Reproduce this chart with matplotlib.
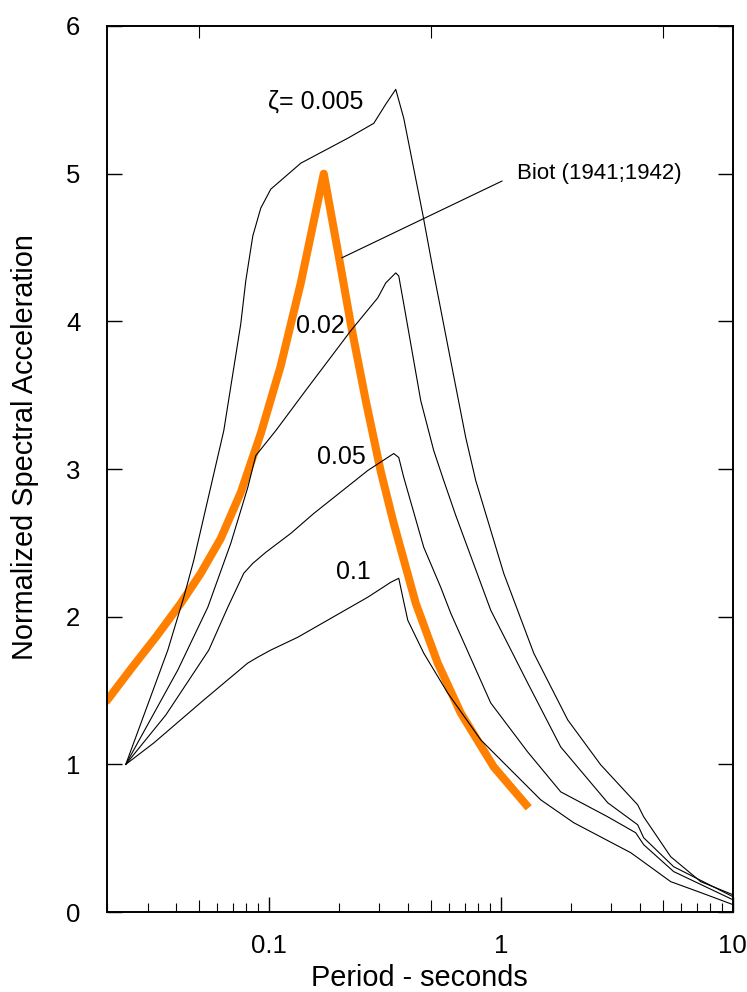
import matplotlib
matplotlib.use("Agg")
import matplotlib.pyplot as plt
from matplotlib.ticker import NullFormatter, FixedLocator

plt.rcParams['font.family'] = ['Liberation Sans', 'DejaVu Sans']

# response spectra: period (s) and normalized acceleration
t_0005 = [0.02418, 0.0367, 0.0430, 0.04749, 0.06397, 0.07572, 0.07957, 0.08531, 0.09236,
          0.1020, 0.1374, 0.2191, 0.2836, 0.3193, 0.3527, 0.3819, 0.4611, 0.5091,
          0.6087, 0.7066, 0.7803, 1.030, 1.388, 1.945, 2.698, 3.895, 4.134, 5.404,
          7.279, 10.0]
sa_0005 = [1.0, 1.774, 2.132, 2.382, 3.260, 3.983, 4.274, 4.578, 4.767,
           4.895, 5.071, 5.240, 5.341, 5.470, 5.571, 5.375, 4.726, 4.361,
           3.733, 3.213, 2.922, 2.294, 1.753, 1.301, 0.997, 0.726, 0.645, 0.375,
           0.206, 0.118]

t_002 = [0.02418, 0.04053, 0.05458, 0.06858, 0.08117, 0.0879, 0.1072, 0.1473, 0.2256,
         0.2950, 0.3193, 0.3527, 0.3634, 0.3819, 0.4520, 0.5142, 0.5679, 0.6398,
         0.9055, 1.307, 1.814, 2.893, 3.895, 4.134, 5.568, 10.0]
sa_002 = [1.0, 1.639, 2.064, 2.497, 2.875, 3.091, 3.260, 3.551, 3.936,
          4.159, 4.260, 4.328, 4.307, 4.118, 3.463, 3.125, 2.922, 2.686,
          2.044, 1.551, 1.118, 0.740, 0.591, 0.503, 0.307, 0.105]

t_005 = [0.02418, 0.03597, 0.05512, 0.06657, 0.0780, 0.08531, 0.09707, 0.1244, 0.1563,
         0.2672, 0.3457, 0.3634, 0.3819, 0.4657, 0.5513, 0.6087, 0.9055, 1.307,
         1.814, 2.893, 3.819, 4.134, 5.568, 10.0]
sa_005 = [1.0, 1.334, 1.774, 2.064, 2.294, 2.361, 2.436, 2.564, 2.699,
          2.990, 3.105, 3.078, 2.943, 2.470, 2.199, 2.024, 1.416, 1.084,
          0.814, 0.645, 0.537, 0.456, 0.274, 0.084]

t_01 = [0.02418, 0.03193, 0.05245, 0.08117, 0.08966, 0.1020, 0.1334, 0.2672, 0.3356,
        0.3634, 0.3781, 0.3974, 0.4657, 0.5909, 0.8201, 1.487, 2.064, 3.634, 3.895,
        5.404, 7.279, 10.0]
sa_01 = [1.0, 1.145, 1.436, 1.686, 1.726, 1.774, 1.861, 2.132, 2.233,
         2.260, 2.132, 1.976, 1.753, 1.483, 1.166, 0.760, 0.605, 0.402, 0.368,
         0.206, 0.132, 0.051]

# Biot (1941;1942) standard spectrum
t_biot = [0.01983, 0.02542, 0.03257, 0.04176, 0.05091, 0.0621, 0.07572, 0.09236,
          0.1126, 0.1374, 0.1726, 0.2002, 0.2256, 0.2619, 0.3040, 0.3457, 0.4302,
          0.5350, 0.6724, 0.9329, 1.320]
sa_biot = [1.422, 1.645, 1.861, 2.091, 2.294, 2.530, 2.841, 3.240,
           3.699, 4.260, 5.0, 4.443, 3.983, 3.463, 2.983, 2.632, 2.091,
           1.686, 1.348, 0.983, 0.706]

damping_labels = ['\u03b6= 0.005', '0.02', '0.05', '0.1']
label_pos = [(0.1594, 5.49), (0.1675, 3.97), (0.206, 3.08), (0.231, 2.30)]

fig = plt.figure(figsize=(7.47, 9.92), dpi=100)
ax = fig.add_axes([0.1428, 0.0806, 0.8380, 0.8932])

ax.plot(t_biot, sa_biot, color='#ff8000', lw=5.8, solid_joinstyle='round',
        solid_capstyle='butt', zorder=2)
for t, sa in [(t_0005, sa_0005), (t_002, sa_002), (t_005, sa_005), (t_01, sa_01)]:
    ax.plot(t, sa, color='black', lw=0.8, zorder=3)

for txt, (x, y) in zip(damping_labels, label_pos):
    ax.text(x, y, txt, fontsize=18, ha='center', va='center', zorder=4)

ax.annotate('Biot (1941;1942)', xy=(0.2064, 4.43), xytext=(1.18, 5.0),
            fontsize=16, ha='left', va='center',
            arrowprops=dict(arrowstyle='-', lw=0.8, color='black',
                            shrinkA=10, shrinkB=0, relpos=(0, 0.5)))

ax.set_xscale('log')
ax.set_xlim(0.02, 10)
ax.set_ylim(0, 6)
ax.set_xticks([0.1, 1, 10], labels=['0.1', '1', '10'])
ax.set_yticks(range(7))
ax.xaxis.set_minor_locator(FixedLocator([d * m for d in (0.01, 0.1, 1)
                                         for m in (2, 3, 4, 6, 7, 8, 9)]))
ax.xaxis.set_minor_formatter(NullFormatter())

ax.tick_params(which='major', direction='in', length=10.8, width=1,
               top=True, right=True, labelsize=18.5)
ax.tick_params(axis='x', which='major', pad=16)
ax.tick_params(axis='y', which='major', pad=19)
ax.tick_params(which='minor', direction='in', length=6.5, width=0.8,
               top=True, right=True)
for s in ax.spines.values():
    s.set_linewidth(1.4)

# half-decade ticks are a bit longer
ax5 = ax.twiny()
ax5.set_xscale('log')
ax5.set_xlim(ax.get_xlim())
ax5.set_xticks([0.05, 0.5, 5])
ax5.xaxis.set_minor_locator(FixedLocator([]))
ax5.tick_params(axis='x', direction='in', length=8.6, width=0.8,
                bottom=True, top=True, labelbottom=False, labeltop=False)
for s in ax5.spines.values():
    s.set_visible(False)

ax.set_xlabel('Period - seconds', fontsize=20.8, labelpad=4)
ax.set_ylabel('Normalized Spectral Acceleration', fontsize=20.8)
ax.yaxis.set_label_coords(-0.108, 0.525)

fig.savefig('out.png', dpi=100)
